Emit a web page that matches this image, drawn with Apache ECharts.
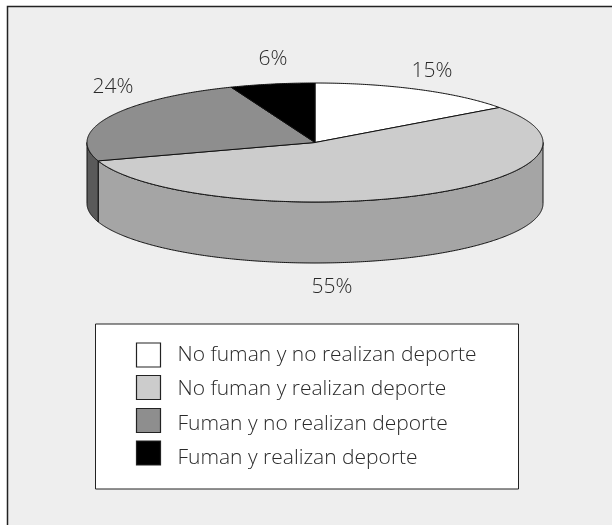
<!DOCTYPE html>
<html>
<head>
<meta charset="utf-8">
<style>
  html, body { margin: 0; padding: 0; background: #fff; }
  #chart { width: 612px; height: 525px; }
</style>
<script src="https://cdn.jsdelivr.net/npm/echarts@6/dist/echarts.min.js"></script>
</head>
<body>
<div id="chart"></div>
<script>
const categories = [
  'No fuman y no realizan deporte',
  'No fuman y realizan deporte',
  'Fuman y no realizan deporte',
  'Fuman y realizan deporte',
]
const values = [15, 55, 24, 6]

// look of the slices
const topColors = ['#ffffff', '#cccccc', '#8e8e8e', '#000000']
const sideColors = ['#dddddd', '#a5a5a5', '#5a5a5a', '#000000']
const labelSpots = [[432, 71.5], [332, 287.5], [113, 87.5], [273, 59.5]]
// boxes and texts of the legend do not share a row height in the original
const legendBoxTops = [343, 375.5, 408.5, 441]
const legendTextMids = [355.5, 389.5, 424, 458]

const FONT = '"Open Sans", sans-serif'
const cx = 315
const cy = 142.5
const rx = 228
const ry = 59.5
const depth = 61
const total = values.reduce((a, b) => a + b, 0)

// angle runs clockwise from the top of the ellipse
function rim(deg, dy) {
  const t = (deg * Math.PI) / 180
  return [cx + rx * Math.sin(t), cy - ry * Math.cos(t) + (dy || 0)]
}

function arc(from, to, dy) {
  const pts = []
  const steps = Math.max(2, Math.ceil(Math.abs(to - from) * 2))
  for (let i = 0; i <= steps; i++) {
    pts.push(rim(from + ((to - from) * i) / steps, dy))
  }
  return pts
}

const lineStyle = { stroke: '#111', lineWidth: 1, lineJoin: 'round' }

function renderSlice(index) {
  return function (params, api) {
    const before = values.slice(0, index).reduce((a, b) => a + b, 0)
    const start = (before / total) * 360
    const end = ((before + api.value(0)) / total) * 360
    const children = []

    // only the front half of the wall can be seen
    const wallFrom = Math.max(start, 90)
    const wallTo = Math.min(end, 270)
    if (wallTo > wallFrom) {
      const wall = arc(wallFrom, wallTo, 0).concat(arc(wallTo, wallFrom, depth))
      children.push({
        type: 'polygon',
        shape: { points: wall },
        style: { ...lineStyle, fill: sideColors[index] },
      })
    }

    children.push({
      type: 'polygon',
      shape: { points: [[cx, cy]].concat(arc(start, end, 0)) },
      style: { ...lineStyle, fill: topColors[index] },
    })

    children.push({
      type: 'text',
      style: {
        x: labelSpots[index][0],
        y: labelSpots[index][1],
        text: api.value(0) + '%',
        fill: '#2a2a2a',
        font: '300 21px ' + FONT,
        align: 'center',
        verticalAlign: 'middle',
      },
    })

    return { type: 'group', children }
  }
}

const legendElements = categories.flatMap((name, i) => [
  {
    type: 'rect',
    z: 2,
    silent: true,
    shape: { x: 136.5, y: legendBoxTops[i], width: 24, height: 24 },
    style: { fill: topColors[i], stroke: '#222', lineWidth: 1.2 },
  },
  {
    type: 'text',
    z: 2,
    silent: true,
    x: 177.5,
    y: legendTextMids[i],
    style: {
      text: name,
      fill: '#2a2a2a',
      font: '300 21px ' + FONT,
      verticalAlign: 'middle',
    },
  },
])

const chart = echarts.init(document.getElementById('chart'), null, { renderer: 'canvas' })

chart.setOption({
  animation: false,
  backgroundColor: '#ffffff',
  graphic: {
    elements: [
      {
        type: 'rect',
        z: 0,
        silent: true,
        shape: { x: 7.5, y: 6.5, width: 640, height: 560 },
        style: { fill: '#eeeeee', stroke: '#222', lineWidth: 1.5 },
      },
      {
        type: 'rect',
        z: 1,
        silent: true,
        shape: { x: 95.5, y: 324, width: 423, height: 165 },
        style: { fill: '#ffffff', stroke: '#222', lineWidth: 1 },
      },
      ...legendElements,
    ],
  },
  series: categories.map((name, i) => ({
    type: 'custom',
    name,
    coordinateSystem: 'none',
    silent: true,
    z: 3,
    data: [[values[i]]],
    renderItem: renderSlice(i),
  })),
})
</script>
</body>
</html>
